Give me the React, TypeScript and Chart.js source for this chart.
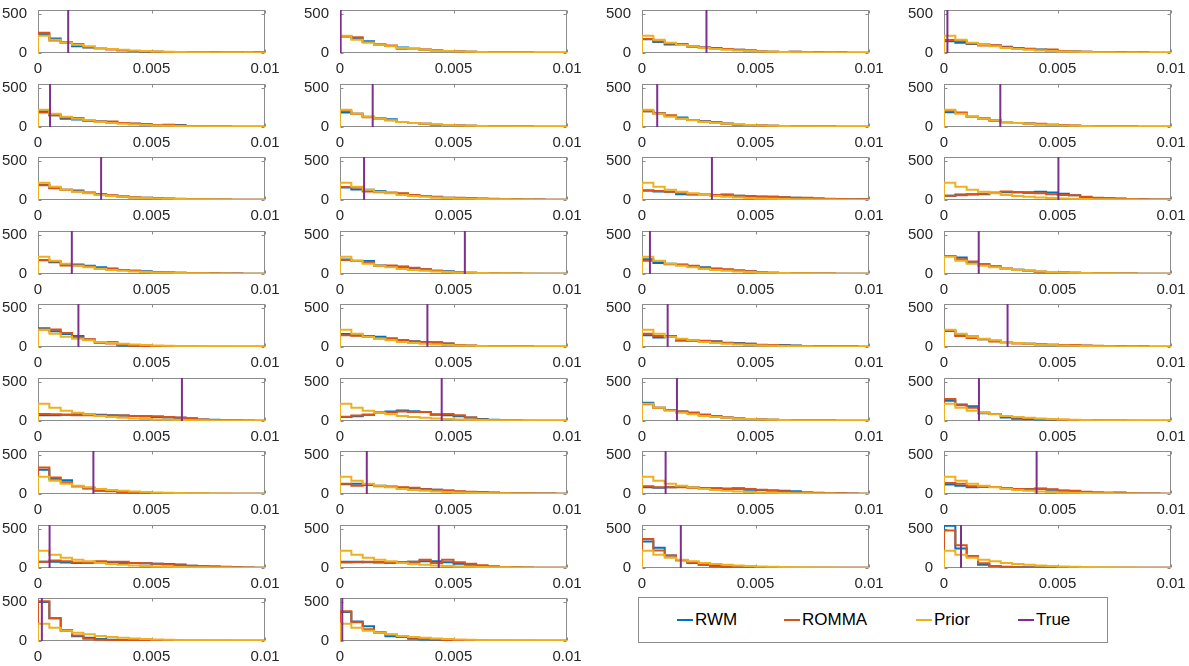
import React, { useEffect, useRef } from 'react';
import { Chart, registerables } from 'chart.js';

Chart.register(...registerables);

// ---------- data ----------
const BIN_EDGES = [0, 0.0005, 0.001, 0.0015, 0.002, 0.0025, 0.003, 0.0035, 0.004, 0.0045, 0.005, 0.0055, 0.006, 0.0065, 0.007, 0.0075, 0.008, 0.0085, 0.009, 0.0095];
const X_MAX = 0.01;
const Y_MAX = 550;
const X_TICKS = [0, 0.005, 0.01];
const X_TICK_LABELS = ['0', '0.005', '0.01'];
const Y_TICKS = [0, 500];
const Y_TICK_LABELS = ['0', '500'];
const SERIES_NAMES = ['RWM', 'ROMMA', 'Prior', 'True'];
const SERIES_COLORS = ['#0072BD', '#D95319', '#EDB120', '#7E2F8E'];

const PRIOR = [220, 170, 130, 105, 85, 65, 52, 42, 33, 26, 20, 16, 12, 10, 8, 6, 5, 4, 3, 2];

const TRUE_VALUES = [
  0.00133, 0.00003, 0.00284, 0.00015,
  0.00053, 0.00144, 0.00067, 0.00248,
  0.00278, 0.00106, 0.00308, 0.00504,
  0.00149, 0.0055, 0.00035, 0.00153,
  0.00178, 0.00385, 0.00113, 0.0028,
  0.00634, 0.00448, 0.00154, 0.00154,
  0.00244, 0.00118, 0.00104, 0.00408,
  0.00051, 0.00435, 0.00171, 0.00075,
  0.00017, 0.0001,
];

const RWM = [
  [240, 185, 135, 85, 70, 60, 50, 35, 25, 20, 15, 12, 10, 8, 8, 10, 6, 5, 4, 3],
  [215, 190, 150, 110, 90, 70, 55, 40, 35, 25, 18, 15, 12, 10, 8, 6, 5, 4, 3, 3],
  [175, 140, 110, 115, 85, 70, 65, 50, 40, 30, 20, 15, 12, 15, 10, 8, 6, 5, 3, 2],
  [150, 130, 115, 110, 95, 80, 65, 55, 45, 35, 25, 20, 15, 12, 10, 8, 6, 5, 4, 3],
  [200, 150, 105, 95, 80, 70, 60, 50, 40, 35, 25, 30, 25, 10, 8, 6, 5, 4, 3, 3],
  [185, 170, 130, 110, 100, 65, 50, 40, 30, 25, 20, 15, 12, 10, 8, 6, 5, 4, 3, 3],
  [200, 175, 140, 120, 90, 75, 60, 45, 30, 25, 20, 15, 12, 10, 8, 6, 5, 4, 3, 3],
  [190, 180, 130, 110, 85, 60, 50, 45, 35, 30, 20, 15, 12, 10, 8, 6, 5, 4, 3, 3],
  [195, 150, 130, 120, 95, 75, 55, 45, 35, 30, 20, 15, 12, 10, 8, 6, 5, 4, 3, 3],
  [160, 135, 130, 115, 90, 80, 60, 50, 40, 30, 25, 20, 15, 12, 10, 8, 6, 5, 4, 3],
  [120, 110, 105, 75, 75, 70, 65, 70, 55, 45, 40, 40, 35, 30, 25, 20, 12, 10, 10, 12],
  [55, 70, 75, 75, 90, 100, 100, 100, 105, 95, 80, 60, 35, 25, 20, 15, 10, 8, 6, 5],
  [175, 150, 120, 120, 105, 85, 70, 50, 40, 35, 25, 20, 15, 12, 10, 8, 6, 5, 4, 3],
  [185, 165, 165, 110, 100, 95, 75, 60, 40, 35, 25, 15, 10, 8, 6, 5, 4, 3, 3, 3],
  [190, 140, 130, 120, 100, 85, 70, 55, 45, 35, 25, 15, 12, 10, 8, 6, 5, 4, 3, 3],
  [230, 210, 150, 125, 100, 70, 55, 40, 30, 25, 20, 15, 12, 10, 8, 6, 5, 4, 3, 3],
  [240, 200, 165, 140, 95, 60, 60, 20, 15, 10, 8, 6, 5, 4, 3, 3, 2, 2, 2, 2],
  [165, 150, 140, 130, 110, 90, 75, 65, 60, 45, 25, 15, 12, 10, 8, 6, 5, 4, 3, 3],
  [150, 120, 140, 90, 80, 75, 75, 55, 50, 40, 25, 25, 25, 20, 12, 10, 8, 6, 5, 4],
  [205, 150, 135, 100, 80, 60, 50, 40, 35, 30, 25, 20, 15, 12, 10, 8, 6, 5, 4, 3],
  [75, 75, 80, 85, 85, 80, 75, 70, 65, 60, 50, 45, 40, 35, 20, 15, 10, 5, 5, 3],
  [50, 60, 80, 110, 120, 135, 125, 115, 80, 75, 60, 45, 25, 15, 10, 6, 4, 3, 2, 2],
  [235, 170, 140, 120, 100, 80, 60, 45, 35, 25, 20, 15, 12, 10, 8, 6, 5, 4, 3, 3],
  [260, 210, 190, 100, 90, 45, 30, 25, 20, 15, 12, 10, 8, 6, 5, 4, 3, 3, 2, 2],
  [310, 195, 175, 100, 75, 45, 40, 25, 20, 15, 12, 10, 8, 6, 5, 4, 3, 3, 2, 2],
  [125, 130, 115, 105, 95, 80, 70, 65, 55, 45, 30, 25, 20, 15, 12, 10, 8, 6, 5, 4],
  [85, 80, 85, 90, 85, 75, 75, 65, 75, 55, 50, 45, 40, 35, 20, 15, 10, 8, 5, 4],
  [120, 105, 85, 100, 90, 70, 60, 65, 70, 55, 40, 35, 25, 20, 15, 20, 10, 6, 5, 4],
  [80, 80, 70, 65, 65, 70, 75, 65, 65, 60, 55, 50, 45, 30, 25, 20, 15, 8, 5, 4],
  [80, 80, 75, 75, 70, 75, 80, 85, 85, 75, 55, 40, 25, 20, 12, 8, 5, 4, 3, 2],
  [340, 260, 160, 100, 65, 40, 25, 15, 10, 8, 6, 5, 4, 3, 3, 2, 2, 2, 2, 2],
  [540, 250, 150, 40, 25, 15, 10, 8, 5, 4, 3, 3, 2, 2, 2, 2, 2, 2, 2, 2],
  [500, 290, 130, 60, 40, 25, 15, 10, 8, 6, 5, 4, 3, 3, 2, 2, 2, 2, 2, 2],
  [370, 250, 190, 110, 60, 50, 30, 20, 12, 8, 6, 5, 4, 3, 3, 2, 2, 2, 2, 2],
];

const ROMMA = [
  [260, 160, 135, 115, 75, 60, 45, 35, 25, 20, 15, 12, 10, 8, 6, 5, 5, 4, 5, 8],
  [210, 200, 140, 110, 95, 55, 55, 45, 35, 25, 20, 15, 12, 10, 7, 6, 5, 4, 3, 3],
  [180, 150, 120, 110, 80, 70, 60, 50, 40, 35, 20, 15, 12, 15, 10, 8, 6, 5, 4, 3],
  [165, 155, 120, 95, 100, 75, 60, 50, 40, 45, 25, 20, 15, 12, 10, 8, 6, 5, 4, 3],
  [185, 150, 120, 115, 80, 70, 70, 50, 45, 35, 25, 25, 20, 10, 8, 6, 5, 4, 3, 3],
  [205, 170, 125, 110, 85, 65, 50, 40, 30, 25, 20, 15, 12, 10, 8, 6, 5, 4, 3, 3],
  [200, 175, 150, 110, 90, 70, 55, 40, 30, 25, 20, 15, 12, 10, 8, 6, 5, 4, 3, 3],
  [205, 185, 130, 110, 80, 60, 50, 45, 40, 30, 25, 20, 12, 10, 8, 6, 5, 4, 3, 3],
  [190, 155, 130, 110, 90, 75, 60, 45, 35, 30, 25, 20, 15, 10, 8, 6, 5, 4, 3, 3],
  [165, 160, 110, 100, 95, 85, 65, 50, 35, 30, 28, 25, 20, 15, 10, 8, 6, 5, 4, 3],
  [120, 115, 105, 90, 70, 65, 65, 65, 55, 50, 45, 40, 35, 30, 28, 20, 15, 12, 10, 8],
  [55, 60, 70, 80, 95, 110, 100, 90, 85, 75, 65, 60, 40, 30, 25, 20, 12, 8, 6, 5],
  [180, 160, 110, 110, 100, 75, 65, 50, 40, 30, 25, 20, 15, 12, 10, 8, 6, 5, 4, 3],
  [180, 170, 150, 105, 110, 90, 80, 60, 40, 30, 25, 15, 10, 8, 6, 5, 4, 3, 3, 3],
  [170, 165, 125, 115, 105, 80, 65, 60, 45, 35, 25, 15, 12, 10, 8, 6, 5, 4, 3, 3],
  [230, 190, 160, 120, 90, 65, 55, 40, 30, 25, 20, 15, 12, 10, 8, 6, 5, 4, 3, 3],
  [225, 225, 180, 120, 100, 55, 45, 25, 15, 12, 10, 8, 6, 5, 4, 3, 3, 2, 2, 2],
  [150, 145, 130, 110, 110, 90, 70, 60, 55, 45, 25, 20, 12, 10, 8, 6, 5, 4, 3, 3],
  [170, 140, 130, 80, 85, 80, 70, 50, 45, 40, 30, 25, 20, 15, 12, 10, 8, 6, 5, 4],
  [210, 140, 115, 100, 70, 60, 45, 40, 35, 30, 25, 25, 20, 15, 10, 8, 6, 5, 4, 3],
  [90, 85, 80, 75, 75, 70, 70, 70, 65, 60, 60, 50, 45, 30, 20, 12, 8, 5, 4, 3],
  [55, 70, 80, 110, 110, 120, 115, 115, 85, 90, 75, 45, 20, 12, 8, 5, 4, 3, 2, 2],
  [215, 170, 140, 120, 110, 80, 60, 45, 35, 25, 20, 15, 12, 10, 8, 6, 5, 4, 3, 3],
  [280, 200, 170, 110, 90, 60, 45, 35, 25, 20, 15, 12, 10, 8, 6, 5, 4, 3, 3, 2],
  [340, 210, 150, 100, 70, 40, 35, 20, 15, 12, 10, 8, 6, 5, 4, 3, 3, 2, 2, 2],
  [130, 105, 120, 100, 90, 85, 80, 60, 55, 40, 35, 30, 25, 20, 12, 10, 8, 6, 5, 4],
  [100, 85, 85, 85, 80, 75, 70, 70, 65, 65, 55, 45, 35, 25, 18, 12, 10, 8, 5, 4],
  [140, 130, 100, 90, 90, 75, 65, 60, 65, 60, 45, 40, 28, 20, 15, 10, 8, 6, 5, 4],
  [80, 95, 85, 70, 65, 85, 80, 80, 65, 60, 55, 45, 35, 30, 25, 20, 12, 8, 5, 4],
  [70, 75, 80, 70, 65, 70, 80, 105, 65, 105, 75, 55, 35, 20, 12, 8, 5, 4, 3, 2],
  [370, 225, 160, 100, 70, 45, 20, 15, 10, 8, 6, 5, 4, 3, 3, 2, 2, 2, 2, 2],
  [480, 290, 150, 60, 25, 12, 8, 6, 5, 4, 3, 3, 2, 2, 2, 2, 2, 2, 2, 2],
  [510, 290, 140, 70, 30, 15, 10, 8, 6, 5, 4, 3, 3, 2, 2, 2, 2, 2, 2, 2],
  [380, 240, 150, 110, 80, 55, 40, 25, 20, 12, 8, 6, 5, 4, 3, 3, 2, 2, 2, 2],
];

// ---------- layout ----------
const COL_LEFTS = [38, 340, 642, 944];
const ROW_TOPS = [10, 84, 157, 231, 304, 378, 451, 525, 598];
const PLOT_W = 227;
const PLOT_H = 43;
const Y_AXIS_W = 38;
const X_AXIS_H = 30;
const PAD_TOP = 12;
const PAD_RIGHT = 24;
const FONT = '"Liberation Sans", Arial, Helvetica, sans-serif';
const AXIS_COLOR = '#8c8c8c';
const TEXT_COLOR = '#262626';

const framePlugin = {
  id: 'matlabFrame',
  beforeDatasetsDraw(chart: any) {
    const { ctx, chartArea, scales } = chart;
    const l = Math.round(chartArea.left) + 0.5;
    const r = Math.round(chartArea.right) - 0.5;
    const t = Math.round(chartArea.top) + 0.5;
    const b = Math.round(chartArea.bottom) - 0.5;
    ctx.save();
    ctx.strokeStyle = AXIS_COLOR;
    ctx.lineWidth = 1;
    ctx.strokeRect(l, t, r - l, b - t);
    ctx.beginPath();
    const tl = 3;
    X_TICKS.forEach((v) => {
      const px = Math.round(scales.x.getPixelForValue(v)) + 0.5;
      ctx.moveTo(px, b);
      ctx.lineTo(px, b - tl);
      ctx.moveTo(px, t);
      ctx.lineTo(px, t + tl);
    });
    Y_TICKS.forEach((v) => {
      const py = Math.round(scales.y.getPixelForValue(v)) + 0.5;
      ctx.moveTo(l, py);
      ctx.lineTo(l + tl, py);
      ctx.moveTo(r, py);
      ctx.lineTo(r - tl, py);
    });
    ctx.stroke();
    ctx.restore();
  },
};

function stairs(vals: number[]) {
  return [{ x: 0, y: 0 }, ...vals.map((v, i) => ({ x: BIN_EDGES[i], y: v })), { x: X_MAX, y: 0 }];
}

function Panel({ index, left, top }: { index: number; left: number; top: number }) {
  const ref = useRef<HTMLCanvasElement>(null);
  useEffect(() => {
    if (!ref.current) return;
    const common = { pointRadius: 0, borderWidth: 2, tension: 0, fill: false };
    const t = TRUE_VALUES[index];
    const chart = new Chart(ref.current, {
      type: 'line',
      data: {
        datasets: [
          { ...common, label: SERIES_NAMES[0], data: stairs(RWM[index]), borderColor: SERIES_COLORS[0], stepped: true, order: 4 },
          { ...common, label: SERIES_NAMES[1], data: stairs(ROMMA[index]), borderColor: SERIES_COLORS[1], stepped: true, order: 3 },
          { ...common, label: SERIES_NAMES[2], data: stairs(PRIOR), borderColor: SERIES_COLORS[2], stepped: true, order: 2 },
          { ...common, label: SERIES_NAMES[3], data: [{ x: t, y: 0 }, { x: t, y: Y_MAX }], borderColor: SERIES_COLORS[3], order: 1 },
        ],
      },
      options: {
        responsive: false,
        animation: false,
        events: [],
        layout: { padding: { left: 0, right: PAD_RIGHT, top: PAD_TOP, bottom: 0 } },
        plugins: { legend: { display: false }, tooltip: { enabled: false } },
        scales: {
          x: {
            type: 'linear',
            min: 0,
            max: X_MAX,
            grid: { display: false },
            border: { display: false },
            afterBuildTicks: (s: any) => {
              s.ticks = X_TICKS.map((v) => ({ value: v }));
            },
            afterFit: (s: any) => {
              s.height = X_AXIS_H;
            },
            ticks: {
              autoSkip: false,
              maxRotation: 0,
              padding: 0,
              color: TEXT_COLOR,
              font: { family: FONT, size: 15, lineHeight: 1 },
              callback: (_v: any, i: number) => X_TICK_LABELS[i],
            },
          },
          y: {
            type: 'linear',
            min: 0,
            max: Y_MAX,
            grid: { display: false },
            border: { display: false },
            afterBuildTicks: (s: any) => {
              s.ticks = Y_TICKS.map((v) => ({ value: v }));
            },
            afterFit: (s: any) => {
              s.width = Y_AXIS_W;
            },
            ticks: {
              autoSkip: false,
              padding: 3,
              color: TEXT_COLOR,
              font: { family: FONT, size: 15 },
              callback: (_v: any, i: number) => Y_TICK_LABELS[i],
            },
          },
        },
      } as any,
      plugins: [framePlugin],
    });
    return () => chart.destroy();
  }, [index]);
  const w = Y_AXIS_W + PLOT_W + PAD_RIGHT;
  const h = PAD_TOP + PLOT_H + X_AXIS_H;
  return (
    <canvas
      ref={ref}
      width={w}
      height={h}
      style={{ position: 'absolute', left: left - Y_AXIS_W, top: top - PAD_TOP, width: w, height: h }}
    />
  );
}

function Legend() {
  const itemOffsets = [38, 145, 277, 379];
  return (
    <div
      style={{
        position: 'absolute',
        left: 638,
        top: 597,
        width: 470,
        height: 46,
        boxSizing: 'border-box',
        border: `1px solid ${AXIS_COLOR}`,
        background: '#fff',
        fontFamily: FONT,
        fontSize: 17,
        color: '#000',
      }}
    >
      {SERIES_NAMES.map((name, i) => (
        <div
          key={name}
          style={{ position: 'absolute', left: itemOffsets[i], top: 0, height: 44, display: 'flex', alignItems: 'center', whiteSpace: 'nowrap' }}
        >
          <span style={{ display: 'inline-block', width: 16, height: 2, background: SERIES_COLORS[i], marginRight: 2 }} />
          <span>{name}</span>
        </div>
      ))}
    </div>
  );
}

export default function App() {
  const panels = TRUE_VALUES.map((_, i) => ({ index: i, left: COL_LEFTS[i % 4], top: ROW_TOPS[Math.floor(i / 4)] }));
  return (
    <div style={{ position: 'absolute', left: 0, top: 0, width: 1189, height: 666, overflow: 'hidden', background: '#fff' }}>
      {panels.map((p) => (
        <Panel key={p.index} index={p.index} left={p.left} top={p.top} />
      ))}
      <Legend />
    </div>
  );
}
